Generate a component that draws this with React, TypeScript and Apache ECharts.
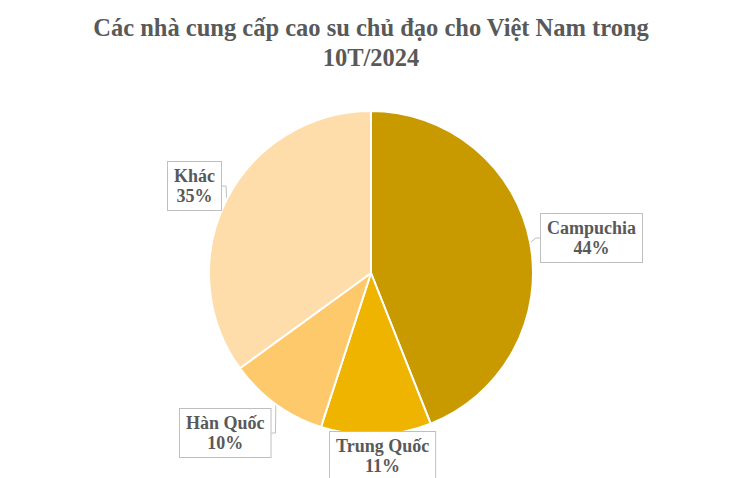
import { useEffect, useRef } from "react";
import * as echarts from "echarts";

const titleLines = ["Các nhà cung cấp cao su chủ đạo cho Việt Nam trong", "10T/2024"];
const countries = ["Campuchia", "Trung Quốc", "Hàn Quốc", "Khác"];
const shares = [44, 11, 10, 35];
const colors = ["#C99A00", "#EEB400", "#FEC96B", "#FEDDAA"];

// label box anchor (left, top) per slice
const labelSpots: [number, number][] = [
  [540, 213],
  [329, 431],
  [179, 408],
  [167, 161],
];

export default function App() {
  const chartRef = useRef<HTMLDivElement>(null);

  useEffect(() => {
    if (!chartRef.current) return;
    const chart = echarts.init(chartRef.current, undefined, { renderer: "svg" });

    const option: echarts.EChartsOption = {
      animation: false,
      backgroundColor: "#ffffff",
      title: {
        text: titleLines.join("\n"),
        left: "center",
        top: 7,
        textStyle: {
          fontFamily: "Liberation Serif",
          fontWeight: "bold",
          fontSize: 24.5,
          lineHeight: 30,
          color: "#595959",
        },
      },
      series: [
        {
          type: "pie",
          center: [371, 273],
          radius: 162,
          startAngle: 90,
          clockwise: true,
          itemStyle: { borderColor: "#ffffff", borderWidth: 2 },
          data: countries.map((name, i) => ({
            name,
            value: shares[i],
            itemStyle: { color: colors[i] },
          })),
          label: {
            show: true,
            formatter: "{b}\n{c}%",
            fontFamily: "Liberation Serif",
            fontWeight: "bold",
            fontSize: 18,
            lineHeight: 20,
            color: "#595959",
            backgroundColor: "#ffffff",
            borderColor: "#BFBFBF",
            borderWidth: 1,
            padding: [4, 6, 4, 6],
            align: "center",
          },
          labelLine: {
            show: true,
            length: 6,
            length2: 4,
            lineStyle: { color: "#BFBFBF", width: 1 },
          },
          labelLayout: (params: any) => {
            const spot = labelSpots[params.dataIndex];
            return {
              x: spot[0] + params.labelRect.width / 2,
              y: spot[1] + params.labelRect.height / 2,
              align: "center",
              verticalAlign: "middle",
            };
          },
        },
      ],
    };

    chart.setOption(option);
    return () => chart.dispose();
  }, []);

  return (
    <div
      ref={chartRef}
      style={{ position: "fixed", left: 0, top: 0, width: 742, height: 478 }}
    />
  );
}
